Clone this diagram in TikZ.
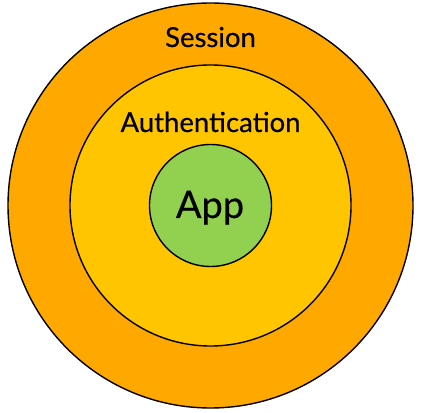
\documentclass[tikz,border=0pt]{standalone}
\usepackage{fontspec}
\setmainfont{Lato}[FakeBold=0.4,AutoFakeBold=0.4]
\usepackage{tikz}
\pgfdeclarelayer{ringlayer}
\pgfdeclarelayer{textlayer}
\pgfsetlayers{ringlayer,main,textlayer}
\definecolor{sessionorange}{RGB}{255,168,0}
\definecolor{authyellow}{RGB}{255,198,0}
\definecolor{appgreen}{RGB}{146,208,80}
\tikzstyle{Ring} = [shape=circle, draw=black, line width=1.4pt, inner sep=0pt]
\tikzstyle{Outer Ring} = [Ring, fill=sessionorange, minimum size=405pt]
\tikzstyle{Middle Ring} = [Ring, fill=authyellow, minimum size=281pt]
\tikzstyle{Inner Ring} = [Ring, fill=appgreen, minimum size=122pt]
\tikzstyle{Label} = [anchor=base, inner sep=0pt, font=\fontsize{27.5}{32}\selectfont]
\begin{document}
\begin{tikzpicture}[x=1pt, y=1pt]
	\useasboundingbox (0, 0) rectangle (422, 412);
	\begin{pgfonlayer}{ringlayer}
		\node [style=Outer Ring] (0) at (210.5, 206.5) {};
		\node [style=Middle Ring] (1) at (210.5, 206.5) {};
		\node [style=Inner Ring] (2) at (210.5, 206.5) {};
	\end{pgfonlayer}
	\begin{pgfonlayer}{textlayer}
		\node [style=Label] (3) at (210.5, 365) {Session};
		\node [style=Label] (4) at (210.5, 280) {Authentication};
		\node [style=Label, font=\fontsize{38}{44}\selectfont] (5) at (210, 194) {App};
	\end{pgfonlayer}
\end{tikzpicture}
\end{document}
